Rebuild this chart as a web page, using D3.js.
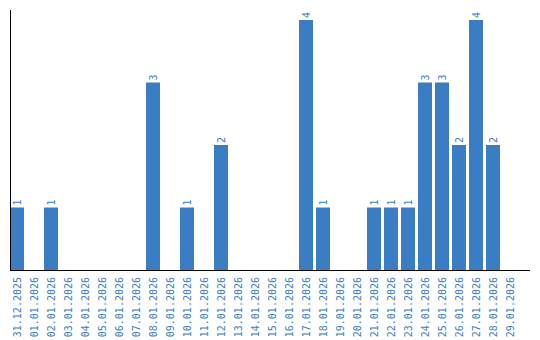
<!DOCTYPE html>
<html>
<head>
<meta charset="utf-8">
<script src="https://cdn.jsdelivr.net/npm/d3@7"></script>
<style>
    body { margin: 0; background: #fff; }
    text { font-family: "DejaVu Sans Mono", monospace; font-size: 10px; fill: #3a7dc2; }
</style>
</head>
<body>
<svg id="chart" width="540" height="340"></svg>
<script>
// data
const dates = [
    "31.12.2025", "01.01.2026", "02.01.2026", "03.01.2026", "04.01.2026",
    "05.01.2026", "06.01.2026", "07.01.2026", "08.01.2026", "09.01.2026",
    "10.01.2026", "11.01.2026", "12.01.2026", "13.01.2026", "14.01.2026",
    "15.01.2026", "16.01.2026", "17.01.2026", "18.01.2026", "19.01.2026",
    "20.01.2026", "21.01.2026", "22.01.2026", "23.01.2026", "24.01.2026",
    "25.01.2026", "26.01.2026", "27.01.2026", "28.01.2026", "29.01.2026"
]
const counts = [1, 0, 1, 0, 0, 0, 0, 0, 3, 0, 1, 0, 2, 0, 0, 0, 0, 4, 1, 0, 0, 1, 1, 1, 3, 3, 2, 4, 2, 0]

const svg = d3.select("#chart")
const plotLeft = 10, plotRight = 530, plotTop = 10, plotBottom = 270

const x = d3.scaleBand()
    .domain(dates)
    .range([plotLeft, plotLeft + 17 * dates.length - 3])
    .paddingInner(3 / 17)
    .paddingOuter(0)

const y = d3.scaleLinear()
    .domain([0, 4])
    .range([plotBottom, 20])

const rows = dates.map((d, i) => ({ date: d, value: counts[i] }))

// bars
svg.append("g")
    .selectAll("rect")
    .data(rows.filter(d => d.value > 0))
    .enter()
    .append("rect")
    .attr("x", d => x(d.date))
    .attr("y", d => y(d.value))
    .attr("width", x.bandwidth())
    .attr("height", d => y(0) - y(d.value))
    .attr("fill", "#3a7dc2")

// value labels, rotated
svg.append("g")
    .selectAll("text")
    .data(rows.filter(d => d.value > 0))
    .enter()
    .append("text")
    .attr("transform", d => `translate(${x(d.date) + x.bandwidth() / 2 + 4},${y(d.value) - 2}) rotate(-90)`)
    .text(d => d.value)

// category labels
svg.append("g")
    .selectAll("text")
    .data(dates)
    .enter()
    .append("text")
    .attr("text-anchor", "end")
    .attr("transform", d => `translate(${x(d) + x.bandwidth() / 2 + 4},${plotBottom + 7}) rotate(-90)`)
    .text(d => d)

// axes lines
svg.append("line")
    .attr("x1", plotLeft + 0.5).attr("x2", plotLeft + 0.5)
    .attr("y1", plotTop).attr("y2", plotBottom)
    .attr("stroke", "#000")
svg.append("line")
    .attr("x1", plotLeft).attr("x2", plotRight)
    .attr("y1", plotBottom + 0.5).attr("y2", plotBottom + 0.5)
    .attr("stroke", "#000")
</script>
</body>
</html>
